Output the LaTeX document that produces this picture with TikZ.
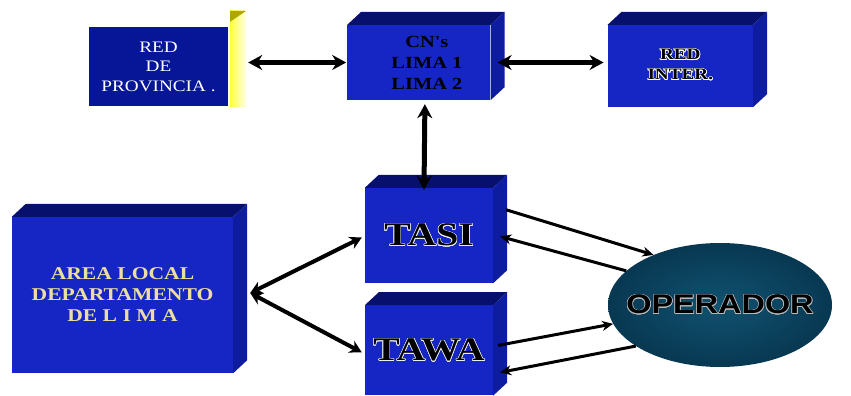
\documentclass[tikz,border=0pt]{standalone}
\usepackage{fontspec}
\usepackage{contour}
\usetikzlibrary{positioning,shapes.geometric,arrows.meta}
\newfontfamily\serifblock[FakeStretch=1.2]{Liberation Serif}
\newfontfamily\sansblock[FakeStretch=1.2]{Liberation Sans}
\definecolor{frontblue}{RGB}{22,38,196}
\definecolor{topblue}{RGB}{8,16,110}
\definecolor{sideblue}{RGB}{14,28,160}
\definecolor{provblue}{RGB}{6,22,150}
\definecolor{opteal}{RGB}{16,82,112}
\definecolor{opdark}{RGB}{8,56,82}
\definecolor{areagold}{RGB}{236,222,160}
\contourlength{0.6pt}

\begin{document}
\begin{tikzpicture}[x=1pt,y=1pt,
    bloque/.style={rectangle, fill=frontblue, inner sep=0pt, align=center, font=\serifblock\bfseries},
    cara/.style={fill=topblue},
    lado/.style={fill=sideblue},
    enlace/.style={line width=5pt, {Stealth[length=14pt,width=15pt]}-{Stealth[length=14pt,width=15pt]}},
    enlacelocal/.style={line width=4pt, {Stealth[length=12pt,width=13pt]}-{Stealth[length=12pt,width=13pt]}},
    flecha/.style={line width=3pt, -{Stealth[length=11pt,width=10pt]}}
  ]
  \useasboundingbox (0,0) rectangle (851,396);

  \node[rectangle, fill=provblue, inner sep=0pt, minimum width=139pt, minimum height=79pt,
        align=center, text=white, font=\serifblock\fontsize{16}{19.5}\selectfont] (prov) at (158.5,329.5)
        {RED\\DE\\PROVINCIA .};
  \node[bloque, minimum width=143pt, minimum height=75pt, right=119pt of prov, yshift=4pt,
        font=\serifblock\bfseries\fontsize{17}{21}\selectfont] (cns)
        {\hspace*{16pt}CN's\\\hspace*{16pt}LIMA 1\\\hspace*{16pt}LIMA 2};
  \node[bloque, minimum width=145pt, minimum height=82pt, right=117pt of cns, yshift=-3.5pt,
        font=\serifblock\bfseries\fontsize{16}{20}\selectfont] (inter)
        {\raisebox{9pt}{\begin{tabular}{@{}c@{}}\contour{white}{RED}\\\contour{white}{INTER.}\end{tabular}}};
  \node[bloque, minimum width=128pt, minimum height=95pt,
        font=\serifblock\bfseries\fontsize{33}{36}\selectfont] (tasi) at (429,160.5)
        {\contour{gray!15}{TASI}};
  \node[bloque, minimum width=128pt, minimum height=90pt, below=22pt of tasi,
        font=\serifblock\bfseries\fontsize{33}{36}\selectfont] (tawa)
        {\contour{gray!15}{TAWA}};
  \node[bloque, minimum width=221pt, minimum height=156pt, text=areagold,
        font=\serifblock\bfseries\fontsize{18}{21}\selectfont] (area) at (122.5,101)
        {AREA LOCAL\\DEPARTAMENTO\\DE L I M A};
  \node[ellipse, inner sep=0pt, inner color=opteal, outer color=opdark, minimum width=224pt, minimum height=124pt,
        font=\sansblock\bfseries\fontsize{27}{30}\selectfont] (oper) at (720,91)
        {\makebox[0pt]{\contour{gray!55}{OPERADOR}}};

  \foreach \n in {cns,inter,tasi,tawa,area} {
    \fill[cara] (\n.north west) -- ++(14,13) -- ([shift={(14,13)}]\n.north east) -- (\n.north east) -- cycle;
    \fill[lado] (\n.north east) -- ++(14,13) -- ([shift={(14,13)}]\n.south east) -- (\n.south east) -- cycle;
  }
  \fill[left color=yellow!75!white, right color=yellow!10!white]
    ([xshift=2pt]prov.south east) -- ([xshift=2pt,yshift=16pt]prov.north east)
    -- ([xshift=18pt,yshift=16pt]prov.north east) -- ([xshift=18pt]prov.south east) -- cycle;
  \fill[olive!70!yellow] ([xshift=2pt,yshift=5pt]prov.north east) -- ([xshift=2pt,yshift=16pt]prov.north east)
    -- ([xshift=18pt,yshift=16pt]prov.north east) -- cycle;

  \draw[enlace] ([xshift=20pt]prov.east |- cns.west) -- ([xshift=-1pt]cns.west);
  \draw[enlace] ([xshift=7pt]cns.east) -- ([xshift=-4pt]inter.west |- cns.east);
  \draw[enlace] ([xshift=6pt,yshift=-4pt]cns.south) -- ([xshift=-5pt,yshift=-2pt]tasi.north);
  \draw[enlacelocal] ([xshift=17pt,yshift=2pt]area.east) -- ([xshift=-3pt,yshift=-2pt]tasi.west);
  \draw[enlacelocal] ([xshift=17pt,yshift=2pt]area.east) -- ([xshift=-3pt,yshift=-2pt]tawa.west);
  \draw[flecha] ([shift={(13pt,-22pt)}]tasi.north east) -- (oper.143);
  \draw[flecha] (oper.160) -- ([xshift=7pt,yshift=-1pt]tasi.east);
  \draw[flecha] ([shift={(5pt,5pt)}]tawa.east) -- (oper.190);
  \draw[flecha] (oper.206) -- ([shift={(7pt,-22pt)}]tawa.east);
\end{tikzpicture}
\end{document}
